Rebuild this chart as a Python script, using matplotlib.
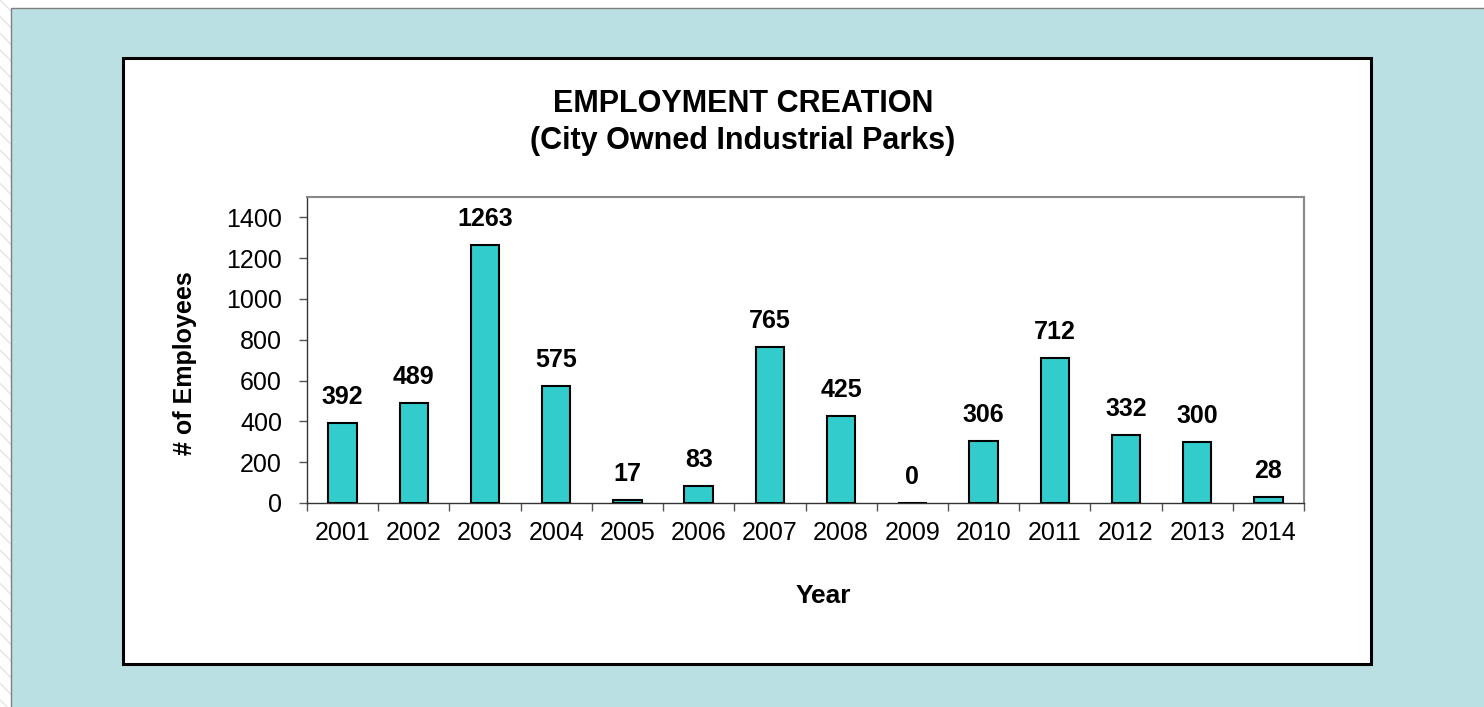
import matplotlib.pyplot as plt
from matplotlib.patches import Rectangle
from matplotlib.ticker import FixedLocator

plt.rcParams['font.family'] = ['Liberation Sans', 'DejaVu Sans']

# data
years = ['2001', '2002', '2003', '2004', '2005', '2006', '2007',
         '2008', '2009', '2010', '2011', '2012', '2013', '2014']
employees = [392, 489, 1263, 575, 17, 83, 765, 425, 0, 306, 712, 332, 300, 28]
yticks = [0, 200, 400, 600, 800, 1000, 1200, 1400]

W, H = 1484, 707
fig = plt.figure(figsize=(W / 100, H / 100), dpi=100, facecolor='white')

# slide background with faint stripes on the left edge
fig.patches.append(Rectangle((0, 0), 11 / W, 1, transform=fig.transFigure,
                             facecolor='white', edgecolor='#e4e4e4',
                             hatch='\\\\', linewidth=0, zorder=0))
fig.patches.append(Rectangle((11 / W, -0.05), 1.1, 1 - 8 / H + 0.05,
                             transform=fig.transFigure, facecolor='#bbe0e3',
                             edgecolor='#7f7f7f', linewidth=1, zorder=0))
# white chart box
fig.patches.append(Rectangle((123.5 / W, 1 - 663.5 / H), (1370.5 - 123.5) / W,
                             (663.5 - 57.5) / H, transform=fig.transFigure,
                             facecolor='white', edgecolor='black',
                             linewidth=2.2, zorder=1))

ax = fig.add_axes([307 / W, 1 - 503 / H, (1304 - 307) / W, (503 - 197) / H])
ax.set_zorder(2)
ax.set_facecolor('white')

x = range(len(years))
bars = ax.bar(x, employees, width=0.4, color='#33cccc', edgecolor='black',
              linewidth=1.5, zorder=3)
for xi, v in zip(x, employees):
    ax.annotate(str(v), (xi, v), xytext=(0, 18.7), textcoords='offset points',
                ha='center', va='center', fontsize=18, fontweight='bold')

ax.set_xlim(-0.5, len(years) - 0.5)
ax.set_ylim(0, 1500)
ax.set_yticks(yticks)
ax.set_xticks(list(x))
ax.set_xticklabels(years)
ax.xaxis.set_minor_locator(FixedLocator([i - 0.5 for i in range(len(years) + 1)]))
ax.tick_params(axis='x', which='major', length=0, pad=13, labelsize=18)
ax.tick_params(axis='x', which='minor', length=6, width=1, color='#555555')
ax.tick_params(axis='y', length=6, width=1, color='#555555', pad=12,
               labelsize=18)

for side in ['top', 'right']:
    ax.spines[side].set_color('#888888')
    ax.spines[side].set_linewidth(1.5)
for side in ['left', 'bottom']:
    ax.spines[side].set_color('#333333')
    ax.spines[side].set_linewidth(1)

fig.text(743 / W, 1 - 112 / H, 'EMPLOYMENT CREATION', ha='center',
         va='baseline', fontsize=22, fontweight='bold')
fig.text(743 / W, 1 - 149 / H, '(City Owned Industrial Parks)', ha='center',
         va='baseline', fontsize=22, fontweight='bold')
fig.text(185 / W, 1 - 363 / H, '# of Employees', rotation=90, ha='center',
         va='center', fontsize=18, fontweight='bold')
fig.text(823 / W, 1 - 596 / H, 'Year', ha='center', va='center',
         fontsize=19, fontweight='bold')

fig.savefig('out.png', dpi=100, facecolor=fig.get_facecolor())
